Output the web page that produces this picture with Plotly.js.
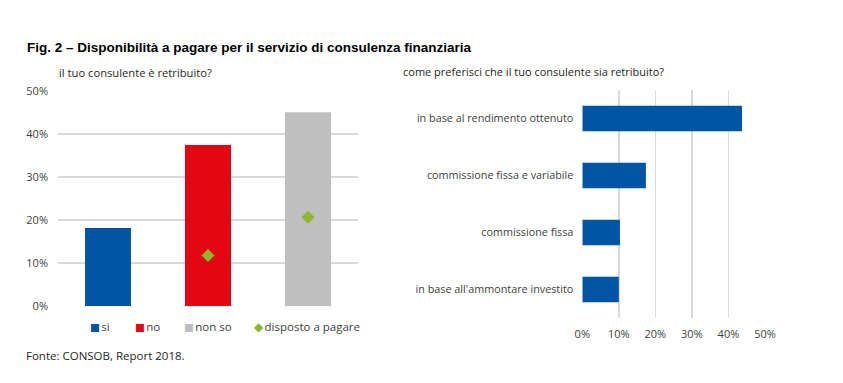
<!DOCTYPE html>
<html><head><meta charset="utf-8">
<script src="https://cdn.plot.ly/plotly-3.0.1.min.js"></script>
<style>html,body{margin:0;padding:0;background:#fff}#c{width:843px;height:383px}</style>
</head><body><div id="c"></div>
<script>
// Left chart: "il tuo consulente è retribuito?"
const leftCats = ["si", "no", "non so"];
const leftVals = [0.181, 0.374, 0.450];
const willingCats = ["no", "non so"];
const willingVals = [0.117, 0.206];
const willingName = "disposto a pagare";
// Right chart: "come preferisci che il tuo consulente sia retribuito?"
const rightCats = ["in base al rendimento ottenuto", "commissione fissa e variabile", "commissione fissa", "in base all'ammontare investito"];
const rightVals = [0.437, 0.174, 0.103, 0.100];
const tickVals = [0, 0.1, 0.2, 0.3, 0.4, 0.5];
const tickText = ["0%", "10%", "20%", "30%", "40%", "50%"];
const barColors = ["#0055A4", "#E30613", "#BFBFBF"];
const diamondColor = "#8DB82A";

const W = 843, H = 383;
const TFONT = "Liberation Sans Narrow, Arial Narrow, sans-serif";
const BODY = "Open Sans, sans-serif";
const TXT = "#404040";

const traces = leftCats.map((c, i) => ({
  type: "bar", x: [c], y: [leftVals[i]], name: c,
  marker: {color: barColors[i]}, xaxis: "x", yaxis: "y",
  width: 0.46, hoverinfo: "skip"
}));
traces.push({
  type: "scatter", mode: "markers", x: willingCats, y: willingVals,
  name: willingName, marker: {symbol: "diamond", size: 10, color: diamondColor},
  xaxis: "x", yaxis: "y", hoverinfo: "skip"
});
traces.push({
  type: "bar", orientation: "h", y: rightCats, x: rightVals,
  marker: {color: "#0055A4"}, xaxis: "x2", yaxis: "y2",
  width: 0.45, hoverinfo: "skip"
});

// hand-made legend (text glyphs) to match the compact reference legend
const legendX = [88, 133, 182, 252];
const legendItems = leftCats.map((c, i) => ({sym: "■", color: barColors[i], size: 10.5, label: c}))
  .concat([{sym: "◆", color: diamondColor, size: 12, label: willingName}]);
const legendAnn = legendItems.map((it, i) => ({
  text: `<span style="color:${it.color};font-family:DejaVu Sans;font-size:${it.size}px">${it.sym}</span><span style="font-size:5px"> </span>${it.label}`,
  xref: "paper", yref: "paper", x: legendX[i]/W, y: 1 - 326/H,
  xanchor: "left", yanchor: "middle", showarrow: false,
  font: {family: BODY, size: 11.5, color: TXT}
}));

const layout = {
  width: W, height: H,
  margin: {l: 0, r: 0, t: 0, b: 0},
  paper_bgcolor: "#fff", plot_bgcolor: "#fff",
  font: {family: BODY, size: 11, color: TXT},
  showlegend: false,
  xaxis: {domain: [58/W, 358/W], type: "category", categoryarray: leftCats, range: [-0.5, 2.5],
          showticklabels: false, showgrid: false, zeroline: false, showline: false, fixedrange: true},
  yaxis: {domain: [1 - 306/H, 1 - 90.7/H], range: [0, 0.5], tickvals: tickVals, ticktext: tickText,
          showgrid: true, gridcolor: "#D9D9D9", gridwidth: 1.5, zeroline: false, showline: false,
          ticks: "", ticklabelstandoff: 9, tickfont: {size: 11, color: TXT}},
  xaxis2: {domain: [582.3/W, 765/W], range: [0, 0.5], tickvals: tickVals, ticktext: tickText,
           showgrid: true, gridcolor: "#D9D9D9", gridwidth: 1.5, zeroline: false, showline: false,
           ticks: "", ticklabelstandoff: 8, tickfont: {size: 11, color: TXT}, anchor: "y2"},
  yaxis2: {domain: [1 - 318/H, 1 - 90/H], type: "category", categoryarray: rightCats,
           range: [3.5, -0.5], showgrid: false, zeroline: false, showline: false, ticks: "",
           ticklabelstandoff: 8, tickfont: {size: 10.8, color: TXT}, anchor: "x2"},
  annotations: [
    {text: "<b>Fig. 2 – Disponibilità a pagare per il servizio di consulenza finanziaria</b>",
     xref: "paper", yref: "paper", x: 25/W, y: 1 - 47/H, xanchor: "left", yanchor: "middle",
     showarrow: false, font: {family: TFONT, size: 13.5, color: "#000"}},
    {text: "il tuo consulente è retribuito?", xref: "paper", yref: "paper",
     x: 57/W, y: 1 - 73/H, xanchor: "left", yanchor: "middle", showarrow: false,
     font: {family: BODY, size: 11.2, color: "#262626"}},
    {text: "come preferisci che il tuo consulente sia retribuito?", xref: "paper", yref: "paper",
     x: 401/W, y: 1 - 71/H, xanchor: "left", yanchor: "middle", showarrow: false,
     font: {family: BODY, size: 11, color: "#262626"}},
    {text: "Fonte: CONSOB, Report 2018.", xref: "paper", yref: "paper",
     x: 24/W, y: 1 - 355/H, xanchor: "left", yanchor: "middle", showarrow: false,
     font: {family: BODY, size: 11.5, color: "#262626"}}
  ].concat(legendAnn)
};
Plotly.newPlot("c", traces, layout, {staticPlot: true, displayModeBar: false});
</script></body></html>
